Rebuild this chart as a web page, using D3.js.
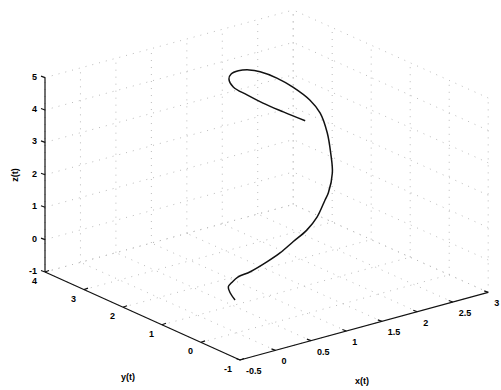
<meta charset="utf-8">
<body style="margin:0;background:#fff">
<script src="https://d3js.org/d3.v7.min.js"></script>
<script>

var width = 501, height = 390;

// axis ticks (as shown)
var xTicks = [-0.5, 0, 0.5, 1, 1.5, 2, 2.5, 3];
var yTicks = [-1, 0, 1, 2, 3, 4];
var zTicks = [-1, 0, 1, 2, 3, 4, 5];

// the curve
var xt = [0.09, 0.05, 0.05, 0.14, 0.25, 0.47, 0.77, 1.01, 1.26, 1.52, 1.73, 1.92, 2.00, 2.15, 2.22,
          2.27, 2.27, 2.20, 2.05, 1.89, 1.72, 1.61, 1.49, 1.41, 1.39, 1.44, 1.59, 1.76, 1.97, 2.19];
var yt = [0.20, 0.25, 0.30, 0.36, 0.42, 0.50, 0.62, 0.72, 0.84, 0.96, 1.08, 1.22, 1.28, 1.45, 1.62,
          1.80, 1.98, 2.12, 2.28, 2.40, 2.52, 2.60, 2.66, 2.70, 2.72, 2.70, 2.62, 2.52, 2.38, 2.22];
var zt = [-0.15, 0.06, 0.22, 0.29, 0.34, 0.33, 0.39, 0.47, 0.60, 0.74, 0.95, 1.29, 1.43, 1.87, 2.34,
          2.84, 3.35, 3.72, 4.12, 4.43, 4.66, 4.74, 4.75, 4.68, 4.53, 4.26, 3.97, 3.67, 3.35, 3.03];

var xs = d3.scaleLinear().domain([-0.5, 3]).range([0, 1]);
var ys = d3.scaleLinear().domain([-1, 4]).range([0, 1]);
var zs = d3.scaleLinear().domain([-1, 5]).range([0, 1]);

// screen vectors of the box edges
var origin = [240, 360],
    ex = [248.2, -67.6],
    ey = [-195, -88],
    ez = [0, -194.4];

function proj(x, y, z) {
    var a = xs(x), b = ys(y), c = zs(z);
    return [origin[0] + a * ex[0] + b * ey[0] + c * ez[0],
            origin[1] + a * ex[1] + b * ey[1] + c * ez[1]];
}

var svg = d3.select("body").append("svg")
    .attr("width", width)
    .attr("height", height)
    .style("font-family", "'Liberation Sans', Arial, sans-serif")
    .style("font-weight", "bold")
    .style("font-size", "9px");

var line = d3.line();
var x0 = -0.5, x1 = 3, y0 = -1, y1 = 4, z0 = -1, z1 = 5;

// grid segments on the three back planes
var grid = [];
xTicks.forEach(function (x) {
    grid.push([proj(x, y1, z0), proj(x, y1, z1)]);
    grid.push([proj(x, y0, z0), proj(x, y1, z0)]);
});
yTicks.forEach(function (y) {
    grid.push([proj(x1, y, z0), proj(x1, y, z1)]);
    grid.push([proj(x0, y, z0), proj(x1, y, z0)]);
});
zTicks.forEach(function (z) {
    grid.push([proj(x0, y1, z), proj(x1, y1, z)]);
    grid.push([proj(x1, y0, z), proj(x1, y1, z)]);
});

svg.append("g").selectAll("path")
    .data(grid)
    .enter().append("path")
    .attr("d", line)
    .attr("fill", "none")
    .attr("stroke", "#bbb")
    .attr("stroke-width", 1)
    .attr("stroke-dasharray", "1,6");

// axes
var axes = svg.append("g").attr("stroke", "#111").attr("stroke-width", 1.2).attr("fill", "none");
axes.append("path").attr("d", line([proj(x0, y1, z0), proj(x0, y1, z1)]));
axes.append("path").attr("d", line([proj(x0, y0, z0), proj(x0, y1, z0)]));
axes.append("path").attr("d", line([proj(x0, y0, z0), proj(x1, y0, z0)]));

// ticks
zTicks.forEach(function (z) {
    var p = proj(x0, y1, z);
    axes.append("path").attr("d", line([p, [p[0] - 4, p[1] - 1.5]]));
    svg.append("text").attr("x", p[0] - 8).attr("y", p[1] + 2)
        .attr("text-anchor", "end").text(z);
});
yTicks.forEach(function (y) {
    var p = proj(x0, y, z0);
    axes.append("path").attr("d", line([p, [p[0] + 4, p[1] - 1.5]]));
    svg.append("text").attr("x", p[0] - 8).attr("y", p[1] + 12)
        .attr("text-anchor", "end").text(y);
});
xTicks.forEach(function (x) {
    var p = proj(x, y0, z0);
    axes.append("path").attr("d", line([p, [p[0] - 4, p[1] - 1.5]]));
    svg.append("text").attr("x", p[0] + 6).attr("y", p[1] + 14)
        .attr("text-anchor", "start").text(x);
});

// axis labels
svg.append("text").attr("x", 362).attr("y", 384).attr("text-anchor", "middle").text("x(t)");
svg.append("text").attr("x", 128).attr("y", 380).attr("text-anchor", "middle").text("y(t)");
svg.append("text").attr("transform", "translate(18,175) rotate(-90)")
    .attr("text-anchor", "middle").text("z(t)");

// the curve
var pts = xt.map(function (d, i) { return proj(xt[i], yt[i], zt[i]); });
svg.append("path")
    .attr("d", d3.line().curve(d3.curveCatmullRom)(pts))
    .attr("fill", "none")
    .attr("stroke", "#111")
    .attr("stroke-width", 1.5);

</script>
</body>
